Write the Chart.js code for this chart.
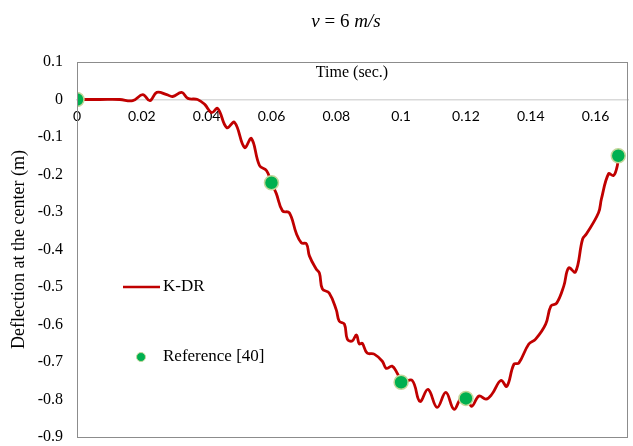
<!DOCTYPE html>
<html>
<head>
<meta charset="utf-8">
<script src="https://cdn.jsdelivr.net/npm/chart.js@4"></script>
<style>
	body { margin: 0; background: #ffffff; }
	canvas { display: block; }
</style>
</head>
<body>
<canvas id="myChart" width="633" height="446"></canvas>
<script>
// K-DR curve (time in sec, deflection in m)
const kdrTime = [
	0, 0.0071, 0.0132, 0.0172, 0.0203, 0.0225, 0.0246, 0.0277, 0.0295, 0.0323,
	0.0342, 0.0372, 0.0394, 0.0415, 0.0434, 0.0462, 0.0486, 0.0517, 0.0538, 0.0563,
	0.0585, 0.06, 0.0615, 0.0634, 0.0655, 0.0677, 0.0692, 0.0708, 0.0717, 0.0738,
	0.0748, 0.0757, 0.0778, 0.08, 0.0809, 0.0825, 0.0834, 0.0849, 0.0862, 0.0871,
	0.088, 0.0895, 0.0917, 0.0942, 0.0954, 0.0972, 0.0988, 0.1003, 0.1034, 0.1058,
	0.1083, 0.1111, 0.1138, 0.1163, 0.1185, 0.1203, 0.1218, 0.124, 0.1262, 0.128,
	0.1308, 0.1326, 0.1348, 0.1363, 0.1394, 0.1415, 0.1446, 0.1462, 0.148, 0.1502,
	0.1517, 0.1538, 0.156, 0.1572, 0.1609, 0.1618, 0.164, 0.1655, 0.1665, 0.1671
];
const kdrDeflection = [
	0, 0, 0, -0.003, 0.013, -0.003, 0.019, 0.013, 0.008, 0.019,
	0.003, 0, -0.013, -0.035, -0.024, -0.075, -0.061, -0.128, -0.104, -0.176,
	-0.19, -0.222, -0.251, -0.297, -0.302, -0.358, -0.382, -0.385, -0.417, -0.452,
	-0.463, -0.505, -0.516, -0.561, -0.591, -0.599, -0.639, -0.644, -0.628, -0.652,
	-0.65, -0.676, -0.679, -0.698, -0.717, -0.711, -0.73, -0.754, -0.749, -0.805,
	-0.773, -0.821, -0.781, -0.826, -0.797, -0.797, -0.818, -0.791, -0.799, -0.786,
	-0.749, -0.765, -0.706, -0.703, -0.652, -0.639, -0.599, -0.551, -0.543, -0.497,
	-0.449, -0.46, -0.372, -0.358, -0.302, -0.265, -0.198, -0.203, -0.184, -0.155
];

// Reference [40] points
const refTime = [0, 0.06, 0.1, 0.12, 0.167];
const refDeflection = [0, -0.222, -0.754, -0.797, -0.15];

const seriesNames = ["K-DR", "Reference [40]"];
const xTickStep = 0.02;
const yTickStep = 0.1;

// Title, inner axis title, plot border and legend
const decorations = {
	id: "decorations",
	afterDraw(chart) {
		const ctx = chart.ctx;
		const area = chart.chartArea;
		ctx.save();
		// plot border
		ctx.strokeStyle = "#8c8c8c";
		ctx.lineWidth = 1;
		ctx.strokeRect(area.left + 0.5, area.top + 0.5, area.right - area.left - 1, area.bottom - area.top);

		// title "v = 6 m/s" with italic parts
		const parts = [
			["v", "italic"],
			[" = 6 ", "normal"],
			["m/s", "italic"],
		];
		let total = 0;
		parts.forEach((p) => {
			ctx.font = p[1] + " 19px 'Liberation Serif'";
			total += ctx.measureText(p[0]).width;
		});
		let x = 346 - total / 2;
		ctx.fillStyle = "#000000";
		ctx.textBaseline = "middle";
		ctx.textAlign = "left";
		parts.forEach((p) => {
			ctx.font = p[1] + " 19px 'Liberation Serif'";
			ctx.fillText(p[0], x, 22);
			x += ctx.measureText(p[0]).width;
		});

		// x axis title inside the plot
		ctx.font = "16px 'Liberation Serif'";
		ctx.textAlign = "center";
		ctx.fillText("Time (sec.)", 352, 73);

		// legend
		const lineSet = chart.data.datasets[1];
		const refSet = chart.data.datasets[0];
		ctx.strokeStyle = lineSet.borderColor;
		ctx.lineWidth = 2.5;
		ctx.beginPath();
		ctx.moveTo(123, 287);
		ctx.lineTo(160, 287);
		ctx.stroke();
		ctx.beginPath();
		ctx.arc(141, 357, 4.5, 0, Math.PI * 2);
		ctx.fillStyle = refSet.backgroundColor;
		ctx.fill();
		ctx.strokeStyle = refSet.borderColor;
		ctx.lineWidth = 1;
		ctx.stroke();
		ctx.fillStyle = "#000000";
		ctx.textAlign = "left";
		ctx.font = "17px 'Liberation Serif'";
		ctx.fillText(lineSet.label, 163, 287);
		ctx.fillText(refSet.label, 163, 357);
		ctx.restore();
	},
};

const fmt = (v, d) => String(Number(v.toFixed(d)));

var ctx = document.getElementById("myChart").getContext("2d");
var myChart = new Chart(ctx, {
	type: "scatter",
	data: {
		datasets: [
			{
				label: seriesNames[1],
				data: refTime.map((t, i) => ({ x: t, y: refDeflection[i] })),
				backgroundColor: "#00b050",
				borderColor: "#c4d79b",
				borderWidth: 1.5,
				pointRadius: 7,
				order: 0,
			},
			{
				label: seriesNames[0],
				data: kdrTime.map((t, i) => ({ x: t, y: kdrDeflection[i] })),
				showLine: true,
				borderColor: "#c00000",
				backgroundColor: "#c00000",
				borderWidth: 2.8,
				pointRadius: 0,
				tension: 0.4,
				order: 1,
			},
		],
	},
	options: {
		responsive: false,
		animation: false,
		layout: {
			autoPadding: false,
			padding: { left: 0, top: 62, right: 5, bottom: 9 },
		},
		plugins: {
			legend: { display: false },
			tooltip: { enabled: false },
		},
		scales: {
			x: {
				type: "linear",
				position: { y: 0 },
				min: 0,
				max: 0.17,
				afterFit: (scale) => {
					// axis sits inside the plot at y = 0, so it takes no layout room
					scale.height = 0;
					scale.paddingLeft = 0;
					scale.paddingRight = 0;
					scale.paddingTop = 0;
					scale.paddingBottom = 0;
				},
				grid: { display: false, drawTicks: false },
				border: { display: true, color: "#d9d9d9", width: 1.5 },
				ticks: {
					stepSize: xTickStep,
					includeBounds: false,
					maxRotation: 0,
					padding: 9,
					color: "#000000",
					font: { family: "Lato", size: 14 },
					callback: (v) => fmt(v, 2),
				},
			},
			y: {
				type: "linear",
				position: "left",
				min: -0.9,
				max: 0.1,
				afterFit: (scale) => {
					scale.width = 77;
					scale.paddingTop = 0;
					scale.paddingBottom = 0;
				},
				grid: { display: false, drawTicks: false },
				border: { display: false },
				ticks: {
					stepSize: yTickStep,
					padding: 14,
					color: "#000000",
					font: { family: "Liberation Serif", size: 16 },
					callback: (v) => fmt(v, 1),
				},
				title: {
					display: true,
					text: "Deflection at the center (m)",
					color: "#000000",
					font: { family: "Liberation Serif", size: 18 },
					padding: { top: 8, bottom: 0 },
				},
			},
		},
	},
	plugins: [decorations],
});
</script>
</body>
</html>
